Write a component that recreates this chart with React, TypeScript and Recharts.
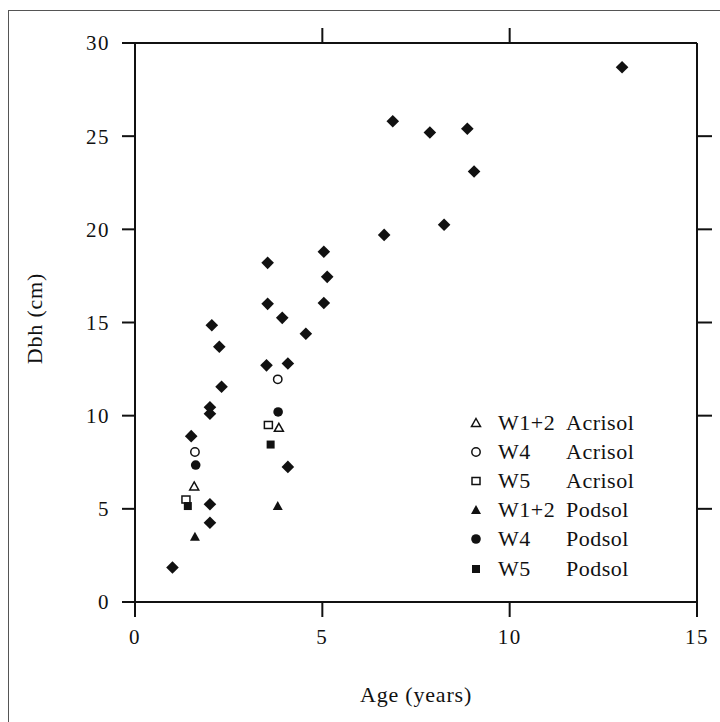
import React from 'react';
import { ScatterChart, Scatter, XAxis, YAxis } from 'recharts';

// ---- data ----
const otherAge = [1.0, 1.5, 2.0, 2.0, 2.0, 2.0, 4.08, 2.05, 2.25, 2.31, 3.51, 4.08, 3.54, 3.54, 3.93, 4.56, 5.04, 5.13, 5.04, 6.65, 6.88, 7.87, 8.87, 9.05, 8.25, 13.0];
const otherDbh = [1.85, 8.9, 10.45, 10.1, 5.25, 4.25, 7.25, 14.85, 13.7, 11.55, 12.7, 12.8, 18.2, 16.0, 15.25, 14.4, 18.8, 17.45, 16.05, 19.7, 25.8, 25.2, 25.4, 23.1, 20.25, 28.7];

const w12AcrisolAge = [1.58, 3.84];
const w12AcrisolDbh = [6.2, 9.35];
const w4AcrisolAge = [1.6, 3.81];
const w4AcrisolDbh = [8.05, 11.95];
const w5AcrisolAge = [1.36, 3.56];
const w5AcrisolDbh = [5.5, 9.5];
const w12PodsolAge = [1.6, 3.81];
const w12PodsolDbh = [3.5, 5.15];
const w4PodsolAge = [1.62, 3.82];
const w4PodsolDbh = [7.35, 10.2];
const w5PodsolAge = [1.41, 3.62];
const w5PodsolDbh = [5.15, 8.45];

const xTicks = [0, 5, 10, 15];
const yTicks = [0, 5, 10, 15, 20, 25, 30];
const topTicks = [5, 10];
const rightTicks = [5, 10, 15, 20, 25];

const zip = (a: number[], b: number[]) => a.map((x, i) => ({ age: x, dbh: b[i] }));

const INK = '#111';
const FONT = '"Liberation Serif", "Times New Roman", serif';

type MarkerKind = 'triOpen' | 'circOpen' | 'sqOpen' | 'triFill' | 'circFill' | 'sqFill';

const drawMarker = (kind: MarkerKind, cx: number, cy: number) => {
  switch (kind) {
    case 'triOpen':
      return <polygon points={`${cx},${cy - 4.5} ${cx + 4.5},${cy + 3.5} ${cx - 4.5},${cy + 3.5}`} fill="#fff" stroke={INK} strokeWidth={1.5} />;
    case 'triFill':
      return <polygon points={`${cx},${cy - 5} ${cx + 5},${cy + 4} ${cx - 5},${cy + 4}`} fill={INK} />;
    case 'circOpen':
      return <circle cx={cx} cy={cy} r={4.2} fill="#fff" stroke={INK} strokeWidth={1.5} />;
    case 'circFill':
      return <circle cx={cx} cy={cy} r={4.8} fill={INK} />;
    case 'sqOpen':
      return <rect x={cx - 4} y={cy - 3.5} width={8} height={7} fill="#fff" stroke={INK} strokeWidth={1.5} />;
    case 'sqFill':
      return <rect x={cx - 4} y={cy - 4} width={8} height={8} fill={INK} />;
  }
  return null;
};

const makeShape = (kind: MarkerKind) => (p: any) => <g>{drawMarker(kind, p.cx, p.cy)}</g>;

const diamondShape = (p: any) => {
  const { cx, cy } = p;
  const r = 6.3;
  return <polygon points={`${cx},${cy - r} ${cx + r},${cy} ${cx},${cy + r} ${cx - r},${cy}`} fill={INK} />;
};

const seriesList: { well: string; soil: string; kind: MarkerKind; data: { age: number; dbh: number }[] }[] = [
  { well: 'W1+2', soil: 'Acrisol', kind: 'triOpen', data: zip(w12AcrisolAge, w12AcrisolDbh) },
  { well: 'W4', soil: 'Acrisol', kind: 'circOpen', data: zip(w4AcrisolAge, w4AcrisolDbh) },
  { well: 'W5', soil: 'Acrisol', kind: 'sqOpen', data: zip(w5AcrisolAge, w5AcrisolDbh) },
  { well: 'W1+2', soil: 'Podsol', kind: 'triFill', data: zip(w12PodsolAge, w12PodsolDbh) },
  { well: 'W4', soil: 'Podsol', kind: 'circFill', data: zip(w4PodsolAge, w4PodsolDbh) },
  { well: 'W5', soil: 'Podsol', kind: 'sqFill', data: zip(w5PodsolAge, w5PodsolDbh) },
];

const otherData = zip(otherAge, otherDbh);

const LegendBox = () => (
  <div style={{ position: 'absolute', left: 469, top: 408, fontFamily: FONT, fontSize: 22, color: INK, letterSpacing: 0.5 }}>
    {seriesList.map((s, i) => (
      <div key={i} style={{ display: 'flex', alignItems: 'center', height: 29.2, whiteSpace: 'nowrap' }}>
        <svg width={14} height={14} style={{ marginRight: 15 }}>
          {drawMarker(s.kind, 7, 7)}
        </svg>
        <span style={{ display: 'inline-block', width: 68 }}>{s.well}</span>
        <span>{s.soil}</span>
      </div>
    ))}
  </div>
);

const tickStyle = { fill: INK, fontSize: 21, fontFamily: FONT, letterSpacing: 1.5 };
const axisLine = { stroke: INK, strokeWidth: 2 };
const tickLine = { stroke: INK, strokeWidth: 2 };
const noTick = () => <g />;

export default function App() {
  return (
    <div style={{ position: 'absolute', left: 0, top: 0, width: 720, height: 722, background: '#fff', overflow: 'hidden' }}>
      <div style={{ position: 'absolute', left: 8, top: 10, width: 900, height: 900, borderLeft: '1px solid #555', borderTop: '1px solid #555' }} />
      <div style={{ position: 'absolute', left: 0, top: 0 }}>
        <ScatterChart width={720} height={722} margin={{ top: 0, right: 0, bottom: 90, left: 0 }}>
          <XAxis
            xAxisId="bottom"
            dataKey="age"
            type="number"
            domain={[0, 15]}
            ticks={xTicks}
            orientation="bottom"
            height={30}
            tickSize={15}
            tickMargin={12}
            axisLine={axisLine}
            tickLine={tickLine}
            tick={tickStyle}
            label={{
              content: (p: any) => {
                const vb = p.viewBox || { x: 135, y: 602, width: 562 };
                return (
                  <text x={vb.x + vb.width / 2} y={vb.y + 92} textAnchor="middle" dominantBaseline="central" fill={INK} fontSize={22} fontFamily={FONT} letterSpacing={0.8}>
                    Age (years)
                  </text>
                );
              },
            }}
          />
          <XAxis
            xAxisId="top"
            type="number"
            dataKey="age"
            domain={[0, 15]}
            ticks={topTicks}
            orientation="top"
            height={43}
            tickSize={15}
            axisLine={axisLine}
            tickLine={tickLine}
            tick={noTick}
          />
          <YAxis
            yAxisId="left"
            dataKey="dbh"
            type="number"
            domain={[0, 30]}
            ticks={yTicks}
            orientation="left"
            width={135}
            tickSize={13}
            tickMargin={12}
            axisLine={axisLine}
            tickLine={tickLine}
            tick={tickStyle}
            label={{
              content: (p: any) => {
                const vb = p.viewBox || { x: 0, y: 43, height: 559 };
                const cy = vb.y + vb.height / 2 - 4;
                return (
                  <text x={34} y={cy} transform={`rotate(-90 34 ${cy})`} textAnchor="middle" dominantBaseline="central" fill={INK} fontSize={22} fontFamily={FONT} letterSpacing={0.8}>
                    Dbh (cm)
                  </text>
                );
              },
            }}
          />
          <YAxis
            yAxisId="right"
            type="number"
            dataKey="dbh"
            domain={[0, 30]}
            ticks={rightTicks}
            orientation="right"
            width={23}
            tickSize={15}
            axisLine={axisLine}
            tickLine={tickLine}
            tick={noTick}
          />
          <Scatter name="Other" data={otherData} xAxisId="bottom" yAxisId="left" shape={diamondShape} legendType="none" isAnimationActive={false} />
          {seriesList.map((s, i) => (
            <Scatter key={i} name={`${s.well} ${s.soil}`} data={s.data} xAxisId="bottom" yAxisId="left" shape={makeShape(s.kind)} isAnimationActive={false} />
          ))}
          <Scatter name="mirror" data={otherData} xAxisId="top" yAxisId="right" shape={() => <g />} legendType="none" isAnimationActive={false} />
        </ScatterChart>
      </div>
      <LegendBox />
    </div>
  );
}
